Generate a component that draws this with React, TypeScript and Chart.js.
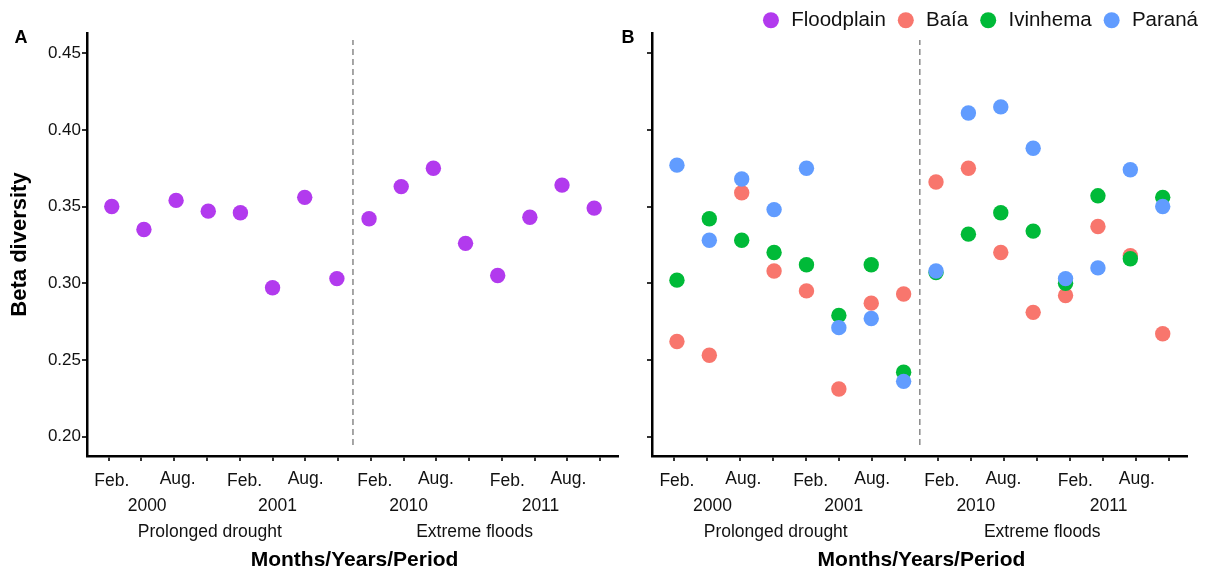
import { useEffect, useRef } from 'react';
import { Chart, registerables } from 'chart.js';

Chart.register(...registerables);

// ---------- data ----------
const categories = [
  'Feb. 2000', 'May 2000', 'Aug. 2000', 'Nov. 2000',
  'Feb. 2001', 'May 2001', 'Aug. 2001', 'Nov. 2001',
  'Feb. 2010', 'May 2010', 'Aug. 2010', 'Nov. 2010',
  'Feb. 2011', 'May 2011', 'Aug. 2011', 'Nov. 2011',
];
const floodplain = [0.350, 0.335, 0.354, 0.347, 0.346, 0.297, 0.356, 0.303, 0.342, 0.363, 0.375, 0.326, 0.305, 0.343, 0.364, 0.349];
const baia = [0.262, 0.253, 0.359, 0.308, 0.295, 0.231, 0.287, 0.293, 0.366, 0.375, 0.320, 0.281, 0.292, 0.337, 0.318, 0.267];
const ivinhema = [0.302, 0.342, 0.328, 0.320, 0.312, 0.279, 0.312, 0.242, 0.307, 0.332, 0.346, 0.334, 0.300, 0.357, 0.316, 0.356];
const parana = [0.377, 0.328, 0.368, 0.348, 0.375, 0.271, 0.277, 0.236, 0.308, 0.411, 0.415, 0.388, 0.303, 0.310, 0.374, 0.350];

const yTicks = [0.20, 0.25, 0.30, 0.35, 0.40, 0.45];
const monthLabels = ['Feb.', 'Aug.', 'Feb.', 'Aug.', 'Feb.', 'Aug.', 'Feb.', 'Aug.'];
const yearLabels = ['2000', '2001', '2010', '2011'];
const periodLabels = ['Prolonged drought', 'Extreme floods'];
const periodBreak = 7.5;

// ---------- layout / style ----------
const monthPos = [0.0, 2.05, 4.13, 6.03, 8.18, 10.08, 12.3, 14.2];
const yearPos = [1.1, 5.15, 9.23, 13.33];
const periodPos = [3.05, 11.28];
const titlePos = 7.55;

const FONT = '"Liberation Sans", Arial, Helvetica, sans-serif';
const Y_MIN = 0.1873;
const Y_MAX = 0.4632;
const X_MIN = -0.77;
const X_MAX = 15.75;
const XT_MIN = -0.66;
const XT_MAX = 15.55;
const COLORS = { floodplain: '#B23AEE', baia: '#F8766D', ivinhema: '#00BA38', parana: '#619CFF' };
const POINT_R = 7.7;

const toPts = (arr: number[]) => arr.map((v, i) => ({ x: i, y: v }));

function pointDataset(label: string, values: number[], color: string, order: number) {
  return {
    label,
    data: toPts(values),
    backgroundColor: color,
    borderColor: color,
    pointBackgroundColor: color,
    pointBorderColor: color,
    borderWidth: 0,
    pointBorderWidth: 0,
    pointRadius: POINT_R,
    pointHoverRadius: POINT_R,
    pointStyle: 'circle',
    order,
  };
}

function dividerDataset() {
  return {
    label: '',
    data: [{ x: periodBreak, y: 0.1945 }, { x: periodBreak, y: 0.4587 }],
    showLine: true,
    borderColor: '#777',
    backgroundColor: '#777',
    borderWidth: 1.3,
    borderDash: [6, 4],
    pointRadius: 0,
    pointHoverRadius: 0,
    order: 20,
  };
}

function yAxis(width: number, labels: boolean, title: boolean) {
  return {
    type: 'linear',
    position: 'left',
    min: Y_MIN,
    max: Y_MAX,
    afterBuildTicks: (s: any) => { s.ticks = yTicks.map((v) => ({ value: v })); },
    afterFit: (s: any) => { s.width = width; },
    grid: { drawOnChartArea: false, drawTicks: true, tickLength: 5, tickWidth: 2, tickColor: '#333', lineWidth: 2 },
    border: { display: true, color: '#000', width: 2.5 },
    ticks: {
      display: labels,
      padding: 1,
      color: '#111',
      font: { family: FONT, size: 17 },
      callback: (v: any) => Number(v).toFixed(2),
    },
    title: {
      display: title,
      text: 'Beta diversity',
      color: '#000',
      font: { family: FONT, size: 22, weight: 'bold' },
      padding: { top: 7, bottom: 0 },
    },
  };
}

function xAxes() {
  return {
    x: { type: 'linear', display: false, min: X_MIN, max: X_MAX },
    xt: {
      type: 'linear',
      position: 'bottom',
      min: XT_MIN,
      max: XT_MAX,
      afterBuildTicks: (s: any) => { s.ticks = categories.map((_, i) => ({ value: i })); },
      afterFit: (s: any) => { s.height = 117; },
      grid: { drawOnChartArea: false, drawTicks: true, tickLength: 5, tickWidth: 2, tickColor: '#333', lineWidth: 2 },
      border: { display: true, color: '#000', width: 2.5 },
      ticks: { display: false },
    },
  };
}

function textPlugin(letter: string, letterX: number) {
  return {
    id: 'axisText' + letter,
    afterDraw(chart: any) {
      const ctx = chart.ctx;
      const xs = chart.scales.x;
      const b = chart.chartArea.bottom;
      ctx.save();
      ctx.fillStyle = '#111';
      ctx.textAlign = 'center';
      ctx.textBaseline = 'middle';
      ctx.font = `17.5px ${FONT}`;
      monthLabels.forEach((t, i) => {
        ctx.fillText(t, xs.getPixelForValue(monthPos[i]), b + (t === 'Aug.' ? 23.5 : 25.5));
      });
      yearLabels.forEach((t, i) => {
        ctx.fillText(t, xs.getPixelForValue(yearPos[i]), b + 50);
      });
      periodLabels.forEach((t, i) => {
        ctx.fillText(t, xs.getPixelForValue(periodPos[i]), b + 76.5);
      });
      ctx.fillStyle = '#000';
      ctx.font = `bold 21px ${FONT}`;
      ctx.fillText('Months/Years/Period', xs.getPixelForValue(titlePos), b + 104);
      ctx.font = `bold 18px ${FONT}`;
      ctx.fillText(letter, letterX, 38.5);
      ctx.restore();
    },
  };
}

function PanelA() {
  const ref = useRef<HTMLCanvasElement | null>(null);
  useEffect(() => {
    if (!ref.current) return;
    const chart = new Chart(ref.current, {
      type: 'scatter',
      data: {
        datasets: [
          pointDataset('Floodplain', floodplain, COLORS.floodplain, 0) as any,
          dividerDataset() as any,
        ],
      },
      options: {
        responsive: false,
        animation: false,
        events: [],
        layout: { padding: { top: 33, right: 3, left: 0, bottom: 0 } },
        plugins: { legend: { display: false }, tooltip: { enabled: false } },
        scales: { ...xAxes(), y: yAxis(87, true, true) } as any,
      },
      plugins: [textPlugin('A', 21)],
    });
    return () => chart.destroy();
  }, []);
  return <canvas ref={ref} width={626} height={573} style={{ position: 'absolute', left: 0, top: 0, display: 'block' }} />;
}

function PanelB() {
  const ref = useRef<HTMLCanvasElement | null>(null);
  useEffect(() => {
    if (!ref.current) return;
    const chart = new Chart(ref.current, {
      type: 'scatter',
      data: {
        datasets: [
          { ...pointDataset('Floodplain', [], COLORS.floodplain, 0), data: [] } as any,
          pointDataset('Baía', baia, COLORS.baia, 3) as any,
          pointDataset('Ivinhema', ivinhema, COLORS.ivinhema, 2) as any,
          pointDataset('Paraná', parana, COLORS.parana, 1) as any,
          dividerDataset() as any,
        ],
      },
      options: {
        responsive: false,
        animation: false,
        events: [],
        layout: { padding: { top: 0, right: 3, left: 0, bottom: 0 } },
        plugins: {
          tooltip: { enabled: false },
          legend: {
            display: true,
            position: 'top',
            align: 'end',
            maxHeight: 33,
            labels: {
              usePointStyle: true,
              pointStyle: 'circle',
              boxWidth: 20,
              boxHeight: 11.3,
              padding: 10,
              color: '#111',
              font: { family: FONT, size: 20.5 },
              filter: (item: any) => item.text !== '',
              sort: (a: any, b: any) => a.datasetIndex - b.datasetIndex,
            },
          },
        },
        scales: {
          ...xAxes(),
          y: yAxis(40, false, false),
          yr: {
            type: 'linear',
            position: 'right',
            afterFit: (s: any) => { s.width = 21; },
            grid: { display: false },
            border: { display: false },
            ticks: { display: false },
          },
        } as any,
      },
      plugins: [textPlugin('B', 16)],
    });
    return () => chart.destroy();
  }, []);
  return <canvas ref={ref} width={599} height={573} style={{ position: 'absolute', left: 612, top: 0, display: 'block' }} />;
}

export default function App() {
  return (
    <div style={{ position: 'fixed', left: 0, top: 0, width: 1211, height: 573, background: '#fff', overflow: 'hidden' }}>
      <PanelA />
      <PanelB />
    </div>
  );
}
